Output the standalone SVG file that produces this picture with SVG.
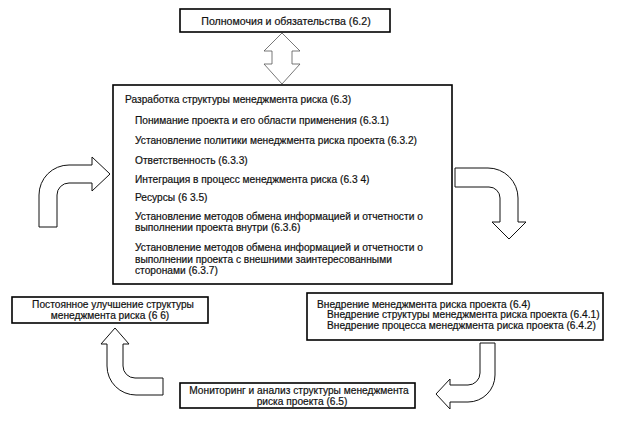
<svg xmlns="http://www.w3.org/2000/svg" width="618" height="422" viewBox="0 0 618 422">
<style>
.box{fill:#fff;stroke:#000;stroke-width:1.6}
.t{font-family:"Liberation Sans",Arial,sans-serif;font-size:10.2px;fill:#111;stroke:#111;stroke-width:0.2}
.c{text-anchor:middle}
.arr{fill:#fff;stroke:#111;stroke-width:1}
.arr2{fill:#fff;stroke:#555;stroke-width:0.8}
</style>
<rect width="618" height="422" fill="#fff"/>
<g id="connectors">
<path class="arr2" d="M282,33 L300,51 L292,51 L292,64 L300,64 L282,84 L264,64 L272,64 L272,51 L264,51 Z"/>
<path class="arr" d="M39,227 V195 A30,30 0 0 1 69,165 H92 V157 L110,174 L92,191 V183 H69 A12,12 0 0 0 57,195 V227 Z"/>
<path class="arr" d="M455,168 H488 A30,30 0 0 1 518,198 V222 H526 L509,239 L492,222 H500 V198 A11,11 0 0 0 489,187 H455 Z"/>
<path class="arr" d="M480,343 V373 A12,12 0 0 1 468,385 H450 V379 L436,394 L450,409 V402 H468 A27,27 0 0 0 495,375 V343 Z"/>
<path class="arr" d="M163,378 H135 A12,12 0 0 1 123,366 V344 H129 L115,328 L101,344 H107 V366 A29,29 0 0 0 136,395 H163 Z"/>
</g>
<g id="n62">
<rect class="box" x="180" y="9" width="210" height="23"/>
<text class="t c" x="286" y="24.5" style="font-size:10.6px">Полномочия и обязательства (6.2)</text>
</g>
<g id="n63">
<rect class="box" x="113" y="85" width="339" height="199"/>
<text class="t" x="125" y="102.5">Разработка структуры менеджмента риска (6.3)</text>
<text class="t" x="135" y="124">Понимание проекта и его области применения (6.3.1)</text>
<text class="t" x="135" y="144">Установление политики менеджмента риска проекта (6.3.2)</text>
<text class="t" x="135" y="164">Ответственность (6.3.3)</text>
<text class="t" x="135" y="183">Интеграция в процесс менеджмента риска (6.3 4)</text>
<text class="t" x="135" y="200.5">Ресурсы (6 3.5)</text>
<text class="t" x="135" y="219.5">Установление методов обмена информацией и отчетности о</text>
<text class="t" x="135" y="231">выполнении проекта внутри (6.3.6)</text>
<text class="t" x="135" y="251">Установление методов обмена информацией и отчетности о</text>
<text class="t" x="135" y="262.5">выполнении проекта с внешними заинтересованными</text>
<text class="t" x="135" y="274">сторонами (6.3.7)</text>
</g>
<g id="n66">
<rect class="box" x="12" y="297" width="196" height="26"/>
<text class="t c" x="113" y="308">Постоянное улучшение структуры</text>
<text class="t c" x="110" y="319">менеджмента риска (6 6)</text>
</g>
<g id="n64">
<rect class="box" x="307" y="293" width="296" height="47"/>
<text class="t" x="317" y="307.5">Внедрение менеджмента риска проекта (6.4)</text>
<text class="t" x="327" y="318">Внедрение структуры менеджмента риска проекта (6.4.1)</text>
<text class="t" x="327" y="328.5">Внедрение процесса менеджмента риска проекта (6.4.2)</text>
</g>
<g id="n65">
<rect class="box" x="180" y="383" width="235" height="25"/>
<text class="t c" x="299" y="394">Мониторинг и анализ структуры менеджмента</text>
<text class="t c" x="302" y="405">риска проекта (6.5)</text>
</g>
</svg>
